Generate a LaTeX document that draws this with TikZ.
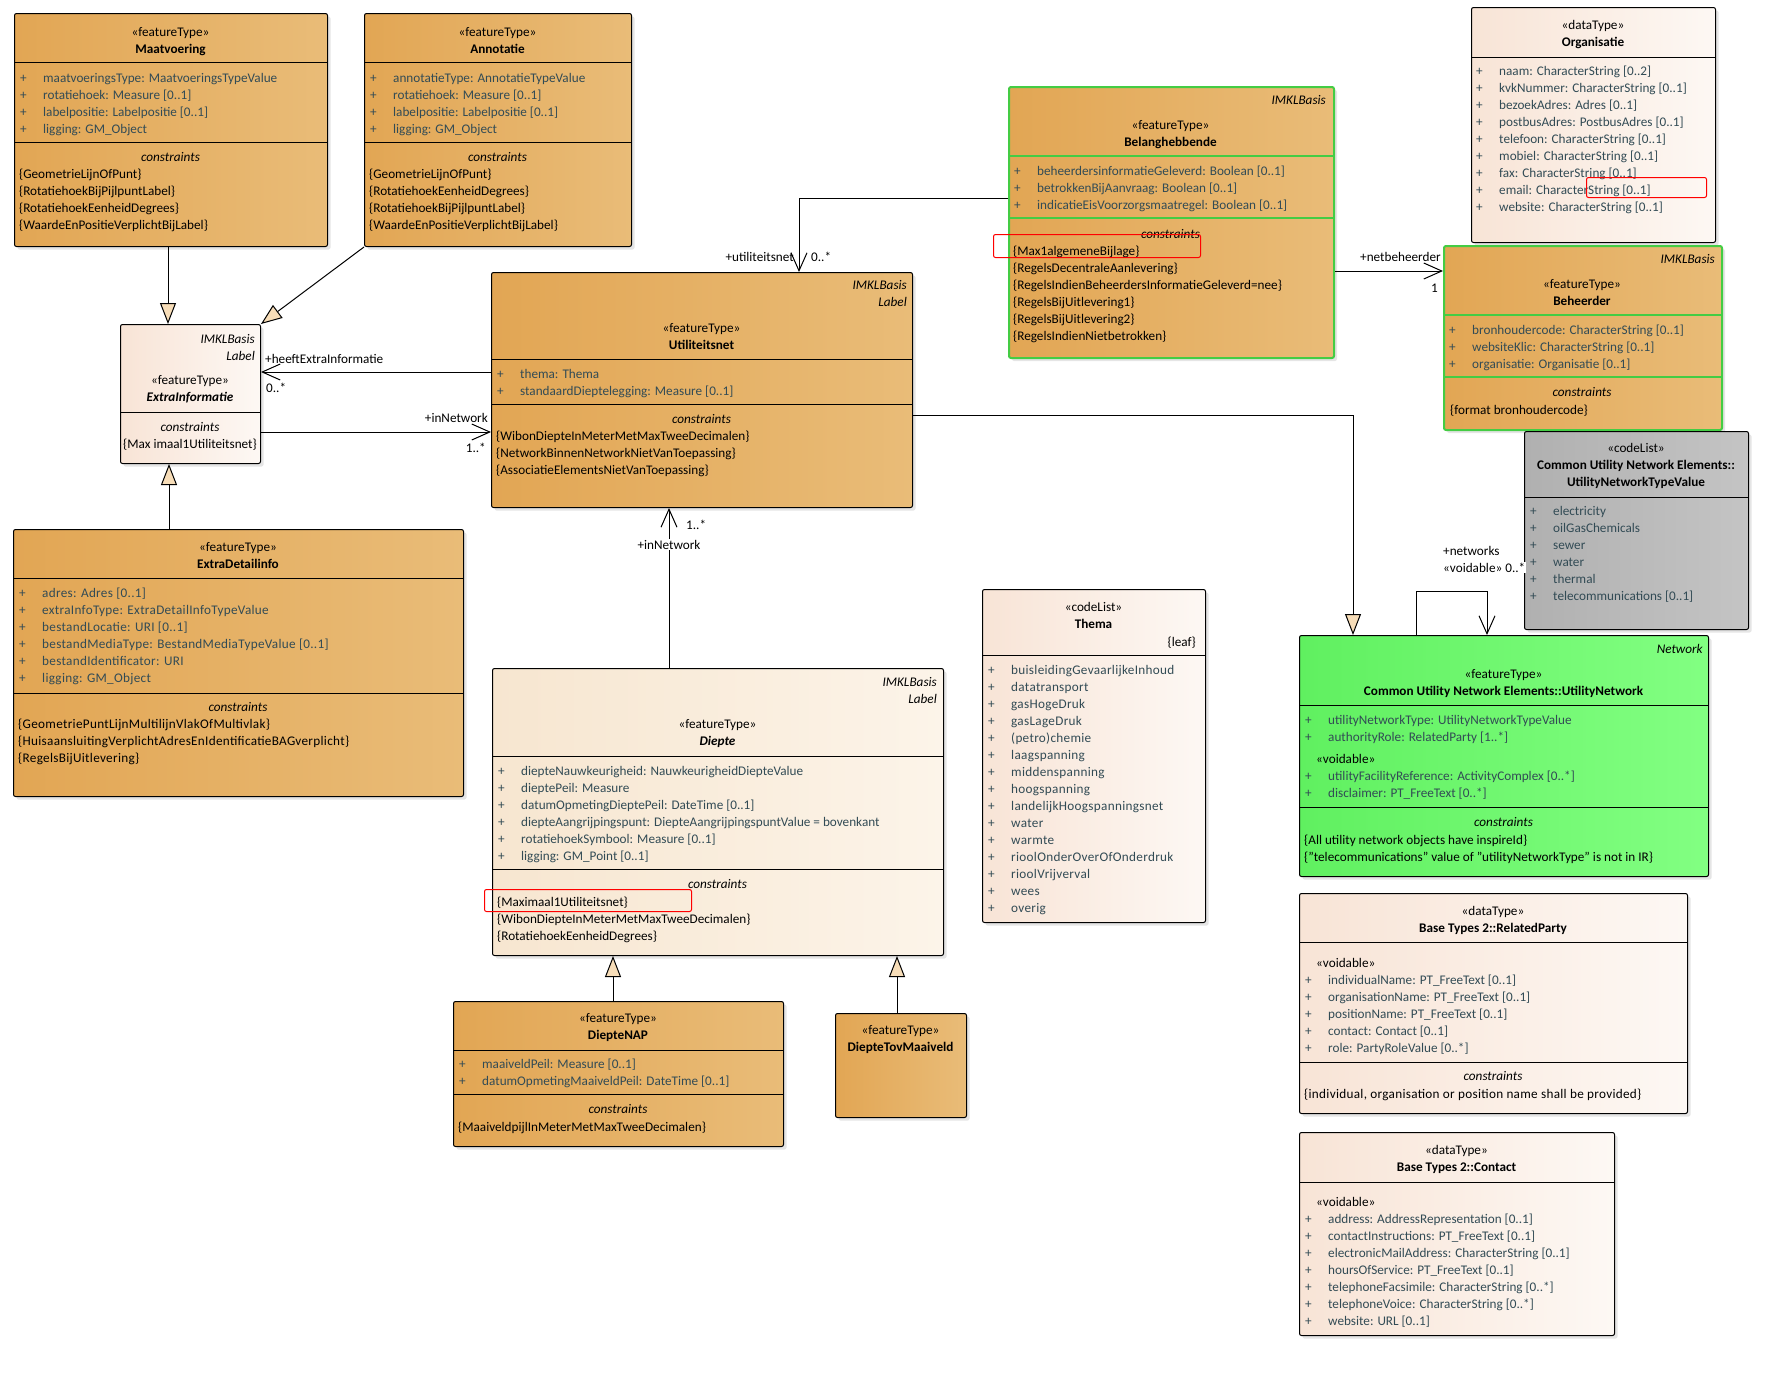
\documentclass[tikz,border=0pt]{standalone}
\usepackage{fontspec}
\setmainfont{Carlito}
\usetikzlibrary{arrows.meta,shadows}
\definecolor{or1}{RGB}{226,166,84}
\definecolor{or2}{RGB}{233,188,120}
\definecolor{pe1}{RGB}{248,228,214}
\definecolor{pe2}{RGB}{253,248,244}
\definecolor{de1}{RGB}{247,230,208}
\definecolor{de2}{RGB}{252,244,233}
\definecolor{gr1}{RGB}{176,176,176}
\definecolor{gr2}{RGB}{196,196,196}
\definecolor{gn1}{RGB}{96,240,96}
\definecolor{gn2}{RGB}{130,255,130}
\definecolor{gnb}{RGB}{68,204,68}
\definecolor{attrcol}{RGB}{50,75,85}
\definecolor{trifill}{RGB}{247,221,184}
\tikzset{
  utxt/.style={inner sep=0pt, font=\fontsize{13.2}{17}\selectfont, text=black},
  attr/.style={utxt, text=attrcol},
  spaced/.style={font=\fontsize{13.2}{17}\selectfont\addfontfeature{LetterSpace=2.3}},
  umlbox/.style={draw=black, line width=1pt, rounded corners=2pt, anchor=north west, inner sep=0pt,
    drop shadow={shadow xshift=3pt, shadow yshift=-3pt, opacity=0.2}},
  orbox/.style={umlbox, left color=or1, right color=or2},
  ogbox/.style={orbox, draw=gnb, line width=2pt},
  pebox/.style={umlbox, left color=pe1, right color=pe2},
  debox/.style={umlbox, left color=de1, right color=de2},
  grbox/.style={umlbox, left color=gr1, right color=gr2},
  gnbox/.style={umlbox, left color=gn1, right color=gn2},
  redmark/.style={draw=red, line width=1pt, rounded corners=2pt, anchor=north west, inner sep=0pt},
  gen/.style={draw=black, line width=1pt, -{Triangle[length=21pt,width=16pt,fill=trifill]}},
  nav/.style={draw=black, line width=1pt, -{Straight Barb[length=18pt,width=16pt]}},
  lbl/.style={utxt, fill=white, inner sep=1pt}
}
\newcommand{\Lft}[5][]{\node[utxt,anchor=base west,#1] (#2) at (#3,#4) {\begin{tabular}[t]{@{}l@{}}#5\end{tabular}};}
\newcommand{\Ctr}[5][]{\node[utxt,anchor=base,#1] (#2) at (#3,#4) {\begin{tabular}[t]{@{}c@{}}#5\end{tabular}};}
\newcommand{\Rgt}[5][]{\node[utxt,anchor=base east,#1] (#2) at (#3,#4) {\begin{tabular}[t]{@{}r@{}}#5\end{tabular}};}
\newcommand{\Att}[5][]{\node[attr,anchor=base west,#1] (#2) at (#3,#4) {\begin{tabular}[t]{@{}p{23pt}@{}l@{}}#5\end{tabular}};}
\newcommand{\Sep}[3][black]{\draw[line width=1pt,#1] (#2.west |- 0,#3) -- (#2.east |- 0,#3);}
\newcommand{\Void}{\multicolumn{2}{@{}l@{}}{\hspace{11pt}\color{black}«voidable»}}
\begin{document}
\begin{tikzpicture}[x=1pt,y=-1pt]
\fill[white] (0,0) rectangle (1773,1382);
\useasboundingbox (0,0) rectangle (1773,1382);

% ---------------- boxes ----------------
\node[orbox, minimum width=313pt, minimum height=233pt] (maat) at (14,13) {};
\node[orbox, minimum width=267pt, minimum height=233pt] (anno) at (364,13) {};
\node[pebox, minimum width=140pt, minimum height=139pt] (xinf) at (120,324) {};
\node[orbox, minimum width=421pt, minimum height=235pt] (util) at (491,272) {};
\node[ogbox, minimum width=325pt, minimum height=271pt] (bela) at (1008,86) {};
\node[pebox, minimum width=244pt, minimum height=235pt] (orga) at (1471,7) {};
\node[ogbox, minimum width=278pt, minimum height=184pt] (behe) at (1443,245) {};
\node[grbox, minimum width=224pt, minimum height=198pt] (untv) at (1524,431) {};
\node[gnbox, minimum width=409pt, minimum height=241pt] (unet) at (1299,635) {};
\node[pebox, minimum width=388pt, minimum height=220pt] (rpar) at (1299,893) {};
\node[pebox, minimum width=315pt, minimum height=203pt] (cont) at (1299,1132) {};
\node[pebox, minimum width=223pt, minimum height=333pt] (them) at (982,589) {};
\node[orbox, minimum width=450pt, minimum height=267pt] (xdet) at (13,529) {};
\node[debox, minimum width=451pt, minimum height=287pt] (diep) at (492,668) {};
\node[orbox, minimum width=330pt, minimum height=145pt] (dnap) at (453,1001) {};
\node[orbox, minimum width=131pt, minimum height=104pt] (dtov) at (835,1013) {};

% ---------------- separators ----------------
\Sep{maat}{62} \Sep{maat}{142}
\Sep{anno}{62} \Sep{anno}{142}
\Sep{xinf}{412}
\Sep{util}{359} \Sep{util}{404}
\Sep[gnb,line width=2pt]{bela}{156} \Sep[gnb,line width=2pt]{bela}{218}
\Sep{orga}{57}
\Sep[gnb,line width=2pt]{behe}{315} \Sep[gnb,line width=2pt]{behe}{377}
\Sep{untv}{497}
\Sep{unet}{705} \Sep{unet}{807}
\Sep{rpar}{942} \Sep{rpar}{1062}
\Sep{cont}{1182}
\Sep{them}{655}
\Sep{xdet}{578} \Sep{xdet}{693}
\Sep{diep}{756} \Sep{diep}{869}
\Sep{dnap}{1050} \Sep{dnap}{1094}

% ---------------- Maatvoering ----------------
\Ctr{maatT}{170.5}{36}{«featureType»\\\textbf{Maatvoering}}
\Att{maatA}{20}{82}{+&maatvoeringsType: MaatvoeringsTypeValue\\+&rotatiehoek: Measure [0..1]\\+&labelpositie: Labelpositie [0..1]\\+&ligging: GM\_Object}
\Ctr{maatCt}{170.5}{161}{\textit{constraints}}
\Lft{maatC}{19}{178}{\{GeometrieLijnOfPunt\}\\\{RotatiehoekBijPijlpuntLabel\}\\\{RotatiehoekEenheidDegrees\}\\\{WaardeEnPositieVerplichtBijLabel\}}

% ---------------- Annotatie ----------------
\Ctr{annoT}{497.5}{36}{«featureType»\\\textbf{Annotatie}}
\Att{annoA}{370}{82}{+&annotatieType: AnnotatieTypeValue\\+&rotatiehoek: Measure [0..1]\\+&labelpositie: Labelpositie [0..1]\\+&ligging: GM\_Object}
\Ctr{annoCt}{497.5}{161}{\textit{constraints}}
\Lft{annoC}{369}{178}{\{GeometrieLijnOfPunt\}\\\{RotatiehoekEenheidDegrees\}\\\{RotatiehoekBijPijlpuntLabel\}\\\{WaardeEnPositieVerplichtBijLabel\}}

% ---------------- ExtraInformatie ----------------
\Rgt{xinfK}{255}{343}{\textit{IMKLBasis}\\\textit{Label}}
\Ctr{xinfT}{190}{384}{«featureType»\\\textbf{\textit{ExtraInformatie}}}
\Ctr{xinfCt}{190}{431}{\textit{constraints}}
\Ctr{xinfC}{190}{448}{\{Max imaal1Utiliteitsnet\}}

% ---------------- Utiliteitsnet ----------------
\Rgt{utilK}{907}{289}{\textit{IMKLBasis}\\\textit{Label}}
\Ctr{utilT}{701.5}{332}{«featureType»\\\textbf{Utiliteitsnet}}
\Att{utilA}{497}{378}{+&thema: Thema\\+&standaardDieptelegging: Measure [0..1]}
\Ctr{utilCt}{701.5}{423}{\textit{constraints}}
\Lft{utilC}{496}{440}{\{WibonDiepteInMeterMetMaxTweeDecimalen\}\\\{NetworkBinnenNetworkNietVanToepassing\}\\\{AssociatieElementsNietVanToepassing\}}

% ---------------- Belanghebbende ----------------
\Rgt{belaK}{1326}{104}{\textit{IMKLBasis}}
\Ctr{belaT}{1170.5}{129}{«featureType»\\\textbf{Belanghebbende}}
\Att{belaA}{1014}{175}{+&beheerdersinformatieGeleverd: Boolean [0..1]\\+&betrokkenBijAanvraag: Boolean [0..1]\\+&indicatieEisVoorzorgsmaatregel: Boolean [0..1]}
\Ctr{belaCt}{1170.5}{238}{\textit{constraints}}
\Lft{belaC}{1013}{255}{\{Max1algemeneBijlage\}\\\{RegelsDecentraleAanlevering\}\\\{RegelsIndienBeheerdersInformatieGeleverd=nee\}\\\{RegelsBijUitlevering1\}\\\{RegelsBijUitlevering2\}\\\{RegelsIndienNietbetrokken\}}

% ---------------- Organisatie ----------------
\Ctr{orgaT}{1593}{29}{«dataType»\\\textbf{Organisatie}}
\Att{orgaA}{1476}{75}{+&naam: CharacterString [0..2]\\+&kvkNummer: CharacterString [0..1]\\+&bezoekAdres: Adres [0..1]\\+&postbusAdres: PostbusAdres [0..1]\\+&telefoon: CharacterString [0..1]\\+&mobiel: CharacterString [0..1]\\+&fax: CharacterString [0..1]\\+&email: CharacterString [0..1]\\+&website: CharacterString [0..1]}

% ---------------- Beheerder ----------------
\Rgt{beheK}{1715}{263}{\textit{IMKLBasis}}
\Ctr{beheT}{1582}{288}{«featureType»\\\textbf{Beheerder}}
\Att{beheA}{1449}{334}{+&bronhoudercode: CharacterString [0..1]\\+&websiteKlic: CharacterString [0..1]\\+&organisatie: Organisatie [0..1]}
\Ctr{beheCt}{1582}{396}{\textit{constraints}}
\Lft{beheC}{1450}{414}{\{format bronhoudercode\}}

% ---------------- UtilityNetworkTypeValue ----------------
\Ctr{untvT}{1636}{452}{«codeList»\\\textbf{Common Utility Network Elements::}\\\textbf{UtilityNetworkTypeValue}}
\Att{untvA}{1530}{515}{+&electricity\\+&oilGasChemicals\\+&sewer\\+&water\\+&thermal\\+&telecommunications [0..1]}

% ---------------- UtilityNetwork ----------------
\Rgt{unetK}{1703}{653}{\textit{Network}}
\Ctr{unetT}{1503.5}{678}{«featureType»\\\textbf{Common Utility Network Elements::UtilityNetwork}}
\Att{unetA}{1305}{724}{+&utilityNetworkType: UtilityNetworkTypeValue\\+&authorityRole: RelatedParty [1..*]\\[5pt]\Void\\+&utilityFacilityReference: ActivityComplex [0..*]\\+&disclaimer: PT\_FreeText [0..*]}
\Ctr{unetCt}{1503.5}{826}{\textit{constraints}}
\Lft{unetC}{1304}{844}{\{All utility network objects have inspireId\}\\\{"telecommunications" value of "utilityNetworkType" is not in IR\}}

% ---------------- RelatedParty ----------------
\Ctr{rparT}{1493}{915}{«dataType»\\\textbf{Base Types 2::RelatedParty}}
\Att{rparA}{1305}{967}{\Void\\+&individualName: PT\_FreeText [0..1]\\+&organisationName: PT\_FreeText [0..1]\\+&positionName: PT\_FreeText [0..1]\\+&contact: Contact [0..1]\\+&role: PartyRoleValue [0..*]}
\Ctr{rparCt}{1493}{1080}{\textit{constraints}}
\Lft[spaced]{rparC}{1304}{1098}{\{individual, organisation or position name shall be provided\}}

% ---------------- Contact ----------------
\Ctr{contT}{1456.5}{1154}{«dataType»\\\textbf{Base Types 2::Contact}}
\Att{contA}{1305}{1206}{\Void\\+&address: AddressRepresentation [0..1]\\+&contactInstructions: PT\_FreeText [0..1]\\+&electronicMailAddress: CharacterString [0..1]\\+&hoursOfService: PT\_FreeText [0..1]\\+&telephoneFacsimile: CharacterString [0..*]\\+&telephoneVoice: CharacterString [0..*]\\+&website: URL [0..1]}

% ---------------- Thema ----------------
\Ctr{themT}{1093.5}{611}{«codeList»\\\textbf{Thema}}
\Rgt{themL}{1196}{646}{\{leaf\}}
\Att[spaced]{themA}{988}{674}{+&buisleidingGevaarlijkeInhoud\\+&datatransport\\+&gasHogeDruk\\+&gasLageDruk\\+&(petro)chemie\\+&laagspanning\\+&middenspanning\\+&hoogspanning\\+&landelijkHoogspanningsnet\\+&water\\+&warmte\\+&rioolOnderOverOfOnderdruk\\+&rioolVrijverval\\+&wees\\+&overig}

% ---------------- ExtraDetailinfo ----------------
\Ctr{xdetT}{238}{551}{«featureType»\\\textbf{ExtraDetailinfo}}
\Att[spaced]{xdetA}{19}{597}{+&adres: Adres [0..1]\\+&extraInfoType: ExtraDetailInfoTypeValue\\+&bestandLocatie: URI [0..1]\\+&bestandMediaType: BestandMediaTypeValue [0..1]\\+&bestandIdentificator: URI\\+&ligging: GM\_Object}
\Ctr{xdetCt}{238}{711}{\textit{constraints}}
\Lft[spaced]{xdetC}{18}{728}{\{GeometriePuntLijnMultilijnVlakOfMultivlak\}\\\{HuisaansluitingVerplichtAdresEnIdentificatieBAGverplicht\}\\\{RegelsBijUitlevering\}}

% ---------------- Diepte ----------------
\Rgt{diepK}{937}{686}{\textit{IMKLBasis}\\\textit{Label}}
\Ctr{diepT}{717.5}{728}{«featureType»\\\textbf{\textit{Diepte}}}
\Att{diepA}{498}{775}{+&diepteNauwkeurigheid: NauwkeurigheidDiepteValue\\+&dieptePeil: Measure\\+&datumOpmetingDieptePeil: DateTime [0..1]\\+&diepteAangrijpingspunt: DiepteAangrijpingspuntValue = bovenkant\\+&rotatiehoekSymbool: Measure [0..1]\\+&ligging: GM\_Point [0..1]}
\Ctr{diepCt}{717.5}{888}{\textit{constraints}}
\Lft{diepC}{497}{906}{\{Maximaal1Utiliteitsnet\}\\\{WibonDiepteInMeterMetMaxTweeDecimalen\}\\\{RotatiehoekEenheidDegrees\}}

% ---------------- DiepteNAP ----------------
\Ctr{dnapT}{618}{1022}{«featureType»\\\textbf{DiepteNAP}}
\Att{dnapA}{459}{1068}{+&maaiveldPeil: Measure [0..1]\\+&datumOpmetingMaaiveldPeil: DateTime [0..1]}
\Ctr{dnapCt}{618}{1113}{\textit{constraints}}
\Lft{dnapC}{458}{1131}{\{MaaiveldpijlInMeterMetMaxTweeDecimalen\}}

% ---------------- DiepteTovMaaiveld ----------------
\Ctr{dtovT}{900.5}{1034}{«featureType»\\\textbf{DiepteTovMaaiveld}}

% ---------------- red marks ----------------
\node[redmark, minimum width=207pt, minimum height=23pt] (redA) at (993,234) {};
\node[redmark, minimum width=120pt, minimum height=20pt] (redB) at (1586,177) {};
\node[redmark, minimum width=207pt, minimum height=22pt] (redC) at (484,889) {};

% ---------------- connectors ----------------
\draw[gen] (168,0 |- maat.south) -- (168,0 |- xinf.north);
\draw[gen] (anno.south west) -- (xinf.north east);
\draw[gen] (169,0 |- xdet.north) -- (169,0 |- xinf.south);
\draw[nav] (util.west |- 0,372) -- (xinf.east |- 0,372);
\draw[nav] (xinf.east |- 0,432) -- (util.west |- 0,432);
\draw[nav] (bela.west |- 0,198) -- (799,198) -- (799,0 |- util.north);
\draw[nav] (bela.east |- 0,271) -- (behe.west |- 0,271);
\draw[gen] (util.east |- 0,415) -- (1353,415) -- (1353,0 |- unet.north);
\draw[nav] (1416,0 |- unet.north) -- (1416,591) -- (1487,591) -- (1487,0 |- unet.north);
\draw[nav] (669,0 |- diep.north) -- (669,0 |- util.south);
\draw[gen] (613,0 |- dnap.north) -- (613,0 |- diep.south);
\draw[gen] (897,0 |- dtov.north) -- (897,0 |- diep.south);

% ---------------- connector labels ----------------
\node[utxt, anchor=base west] (lHeeft) at (265,363) {+heeftExtraInformatie};
\node[utxt, anchor=base west] (lHeeftM) at (266,392) {0..*};
\node[utxt, anchor=base east] (lInNw) at (488,422) {+inNetwork};
\node[utxt, anchor=base east] (lInNwM) at (486,452) {1..*};
\node[utxt, anchor=base east] (lUtil) at (794,261) {+utiliteitsnet};
\node[utxt, anchor=base west] (lUtilM) at (811,261) {0..*};
\node[utxt, anchor=base west] (lNetb) at (1360,261) {+netbeheerder};
\node[utxt, anchor=base east] (lNetbM) at (1438,292) {1};
\node[utxt, anchor=base west] (lNetw) at (1443,555) {+networks};
\node[lbl, anchor=base west] (lNetwM) at (1442,572) {«voidable» 0..*};
\node[utxt, anchor=base west] (lDiepM) at (686,529) {1..*};
\node[lbl, anchor=base] (lDiep) at (669,549) {+inNetwork};
\end{tikzpicture}
\end{document}
